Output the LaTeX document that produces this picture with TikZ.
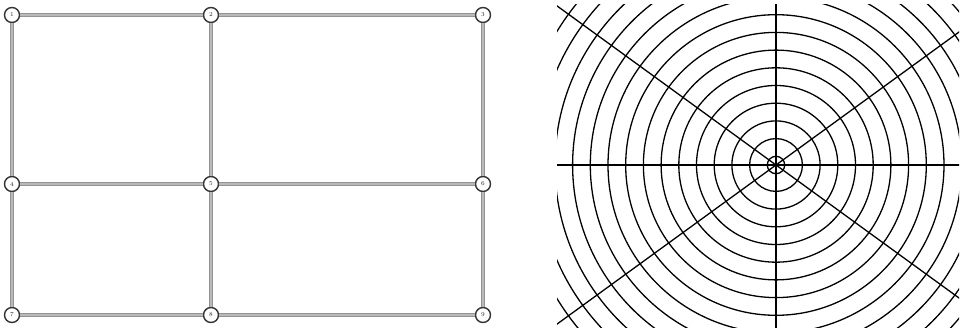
\documentclass[tikz,border=0pt]{standalone}
\begin{document}
\begin{tikzpicture}[x=1pt,y=-1pt,
  gnode/.style={circle,draw=gray!40!black,fill=white,line width=1.4pt,minimum size=15pt,inner sep=0pt,font=\fontsize{6}{6}\selectfont,text=gray!30!black},
  gedge/.style={draw=gray!85,line width=1pt,double=gray!55,double distance=1.2pt},
  pline/.style={black,line width=1.3pt}]
\useasboundingbox (0,0) rectangle (962,331);
% left grid
\node[gnode] (n1) at (12,15) {1};
\node[gnode] (n2) at (211,15) {2};
\node[gnode] (n3) at (483,15) {3};
\node[gnode] (n4) at (12,184) {4};
\node[gnode] (n5) at (211,184) {5};
\node[gnode] (n6) at (483,184) {6};
\node[gnode] (n7) at (12,315) {7};
\node[gnode] (n8) at (211,315) {8};
\node[gnode] (n9) at (483,315) {9};
\draw[gedge] (n1) -- (n2);
\draw[gedge] (n2) -- (n3);
\draw[gedge] (n4) -- (n5);
\draw[gedge] (n5) -- (n6);
\draw[gedge] (n7) -- (n8);
\draw[gedge] (n8) -- (n9);
\draw[gedge] (n1) -- (n4);
\draw[gedge] (n4) -- (n7);
\draw[gedge] (n2) -- (n5);
\draw[gedge] (n5) -- (n8);
\draw[gedge] (n3) -- (n6);
\draw[gedge] (n6) -- (n9);
% polar grid
\begin{scope}
\clip (557,5) rectangle (959,328);
\coordinate (c) at (776,165);
\foreach \k in {0,...,15} {
  \draw[pline] (c) circle ({8.7+17.7*\k});
}
\foreach \a in {0,90,180,270,36,144,216,324} {
  \draw[pline] (c) -- ++(\a:400);
}
\end{scope}
\end{tikzpicture}
\end{document}
